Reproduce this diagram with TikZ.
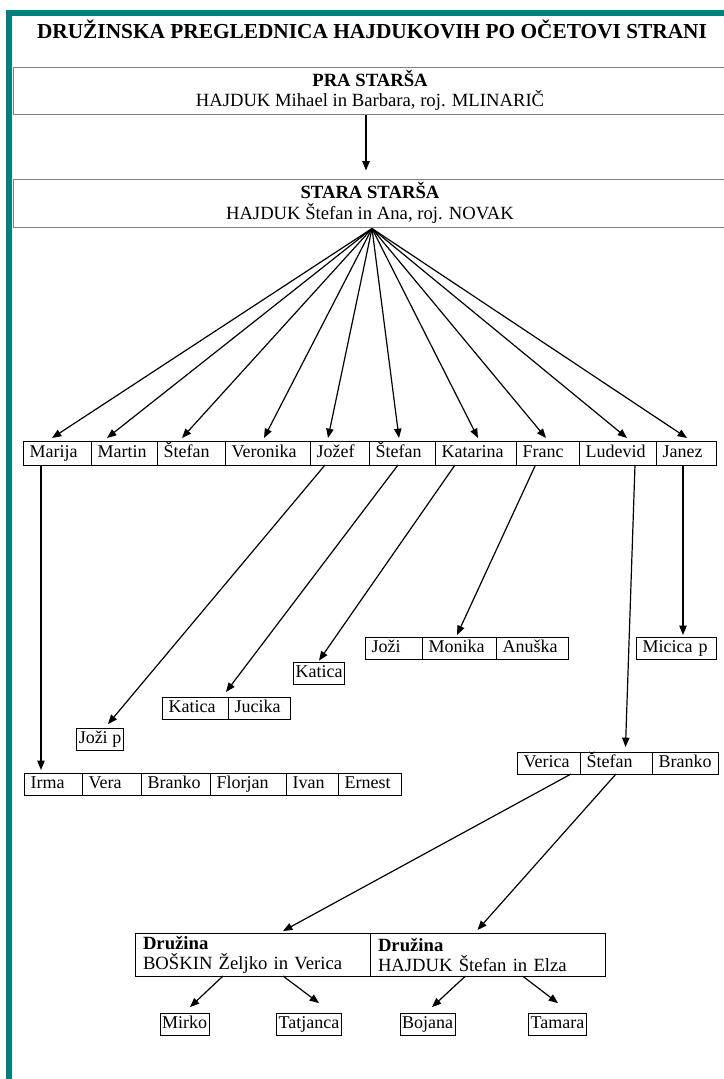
\documentclass[tikz,border=0pt]{standalone}
\usepackage{fontspec}
\setmainfont{Liberation Serif}
\usetikzlibrary{arrows.meta,positioning,calc}
\definecolor{frameteal}{RGB}{0,128,128}

\begin{document}
\begin{tikzpicture}[
    x=0.75pt, y=-0.75pt,
    font=\fontsize{13.5}{15}\selectfont,
    bigbox/.style={draw=black!50, line width=0.75pt, minimum width=535.5pt, minimum height=35.25pt, align=center, inner sep=0pt, font=\fontsize{14}{15.5}\selectfont},
    cell/.style={draw, line width=0.6pt, outer sep=0pt, inner xsep=5pt, inner ysep=0pt, text width=#1, align=left, minimum height=16.5pt, text height=9.5pt, text depth=3pt},
    kid/.style={cell=#1, minimum height=18pt},
    namebox/.style={draw, line width=0.6pt, inner xsep=1.5pt, inner ysep=0pt, minimum height=16.5pt, text height=9.5pt, text depth=3pt},
    famname/.style={draw, line width=0.6pt, outer sep=0pt, text width=164.25pt, align=left, inner xsep=6pt, inner ysep=1.5pt, minimum height=32.25pt, font=\fontsize{14}{15}\selectfont},
    arrow/.style={-{Triangle[length=7pt, width=5.5pt]}, line width=0.9pt},
]
    \fill[white] (0,0) rectangle (724,1079);
    \useasboundingbox (0,0) rectangle (724,1079);

    % Frame
    \fill[frameteal] (6,10) rectangle (12,1079);
    \fill[frameteal] (6,10) rectangle (724,16);

    \node[font=\fontsize{16}{19}\selectfont\bfseries] (title) at (372,29.5) {DRUŽINSKA PREGLEDNICA HAJDUKOVIH PO OČETOVI STRANI};

    \node[bigbox] (pra) at (370,90.5) {\textbf{PRA STARŠA}\\HAJDUK Mihael in Barbara, roj. MLINARIČ};
    \node[bigbox, minimum height=36pt] (stara) at (370,203) {\textbf{STARA STARŠA}\\HAJDUK Štefan in Ana, roj. NOVAK};

    % Children
    \node[kid=41pt, anchor=north west] (marija) at (23,441) {Marija};
    \node[kid=39.5pt, right=0pt of marija] (martin) {Martin};
    \node[kid=41pt, right=0pt of martin] (stefanA) {Štefan};
    \node[kid=53.75pt, right=0pt of stefanA] (veronika) {Veronika};
    \node[kid=34.25pt, right=0pt of veronika] (jozef) {Jožef};
    \node[kid=39.5pt, right=0pt of jozef] (stefanB) {Štefan};
    \node[kid=50.75pt, right=0pt of stefanB] (katarina) {Katarina};
    \node[kid=37.25pt, right=0pt of katarina] (franc) {Franc};
    \node[kid=47.75pt, right=0pt of franc] (ludevid) {Ludevid};
    \node[kid=35pt, right=0pt of ludevid] (janez) {Janez};

    % Grandchildren
    \node[cell=32.75pt, anchor=north west] (jozi) at (365,637) {Joži};
    \node[cell=45.5pt, right=0pt of jozi] (monika) {Monika};
    \node[cell=44pt, right=0pt of monika] (anuska) {Anuška};
    \node[cell=50pt, anchor=north west] (micica) at (636,637) {Micica p};
    \node[namebox] (katicaA) at (319,673) {Katica};
    \node[cell=39.5pt, anchor=north west] (katicaB) at (162,697) {Katica};
    \node[cell=36.5pt, right=0pt of katicaB] (jucika) {Jucika};
    \node[namebox] (jozip) at (100,739.5) {Joži p};
    \node[cell=37.25pt, anchor=north west] (verica) at (517,752) {Verica};
    \node[cell=44pt, right=0pt of verica] (stefanC) {Štefan};
    \node[cell=40pt, right=0pt of stefanC] (brankoB) {Branko};
    \node[cell=33.5pt, anchor=north west] (irma) at (24,773) {Irma};
    \node[cell=34.25pt, right=0pt of irma] (vera) {Vera};
    \node[cell=41.75pt, right=0pt of vera] (brankoA) {Branko};
    \node[cell=47pt, right=0pt of brankoA] (florjan) {Florjan};
    \node[cell=29pt, right=0pt of florjan] (ivan) {Ivan};
    \node[cell=37.25pt, right=0pt of ivan] (ernest) {Ernest};

    % Families
    \node[famname, anchor=north west] (druzL) at (135,933) {\textbf{Družina}\\BOŠKIN Željko in Verica};
    \node[famname, right=0pt of druzL] (druzR) {\textbf{Družina}\\HAJDUK Štefan in Elza};
    \node[namebox] (mirko) at (184.5,1024.5) {Mirko};
    \node[namebox] (tatjanca) at (309,1024.5) {Tatjanca};
    \node[namebox] (bojana) at (427.5,1024.5) {Bojana};
    \node[namebox] (tamara) at (557.5,1024.5) {Tamara};

    \draw[arrow] ($(pra.south)+(-4,0)$) -- ($(stara.north)+(-4,-8)$);
    \foreach \kid/\dx in {marija/-5, martin/-17, stefanA/-9, veronika/-3.5, jozef/-11.5, stefanB/-3, katarina/2.5, franc/-1.5, ludevid/9.5, janez/1}
        \draw[arrow] ($(stara.south)+(2,1)$) -- ($(\kid.north)+(\dx,-3)$);

    \draw[arrow] ($(marija.south)+(-16,0)$) -- ($(irma.north)+(-12,-3)$);
    \draw[arrow] ($(jozef.south)+(-14.5,0)$) -- ($(jozip.north)+(8,-4)$);
    \draw[arrow] ($(stefanB.south)+(-4,0)$) -- ($(katicaB.north east)+(-2,-5)$);
    \draw[arrow] ($(katarina.south)+(-20.5,0)$) -- ($(katicaA.north)+(0,-1)$);
    \draw[arrow] ($(franc.south)+(-12,0)$) -- ($(monika.north)+(-2,-2)$);
    \draw[arrow] ($(ludevid.south)+(17.5,0)$) -- ($(stefanC.north)+(9.5,-5)$);
    \draw[arrow] ($(janez.south)+(-3,0)$) -- ($(micica.north)+(7,-2)$);

    \draw[arrow] ($(verica.south)+(22.5,0)$) -- ($(druzL.north)+(30.5,-2)$);
    \draw[arrow] (stefanC.south) -- ($(druzR.north)+(-10,-3)$);

    \draw[arrow] ($(druzL.south)+(-29.5,0)$) -- ($(mirko.north)+(5.5,-6)$);
    \draw[arrow] ($(druzL.south)+(30.5,0)$) -- ($(tatjanca.north)+(10,-10)$);
    \draw[arrow] ($(druzR.south)+(-22,0)$) -- ($(bojana.north)+(4.5,-6)$);
    \draw[arrow] ($(druzR.south)+(35,0)$) -- ($(tamara.north)+(0.5,-10)$);
\end{tikzpicture}
\end{document}
